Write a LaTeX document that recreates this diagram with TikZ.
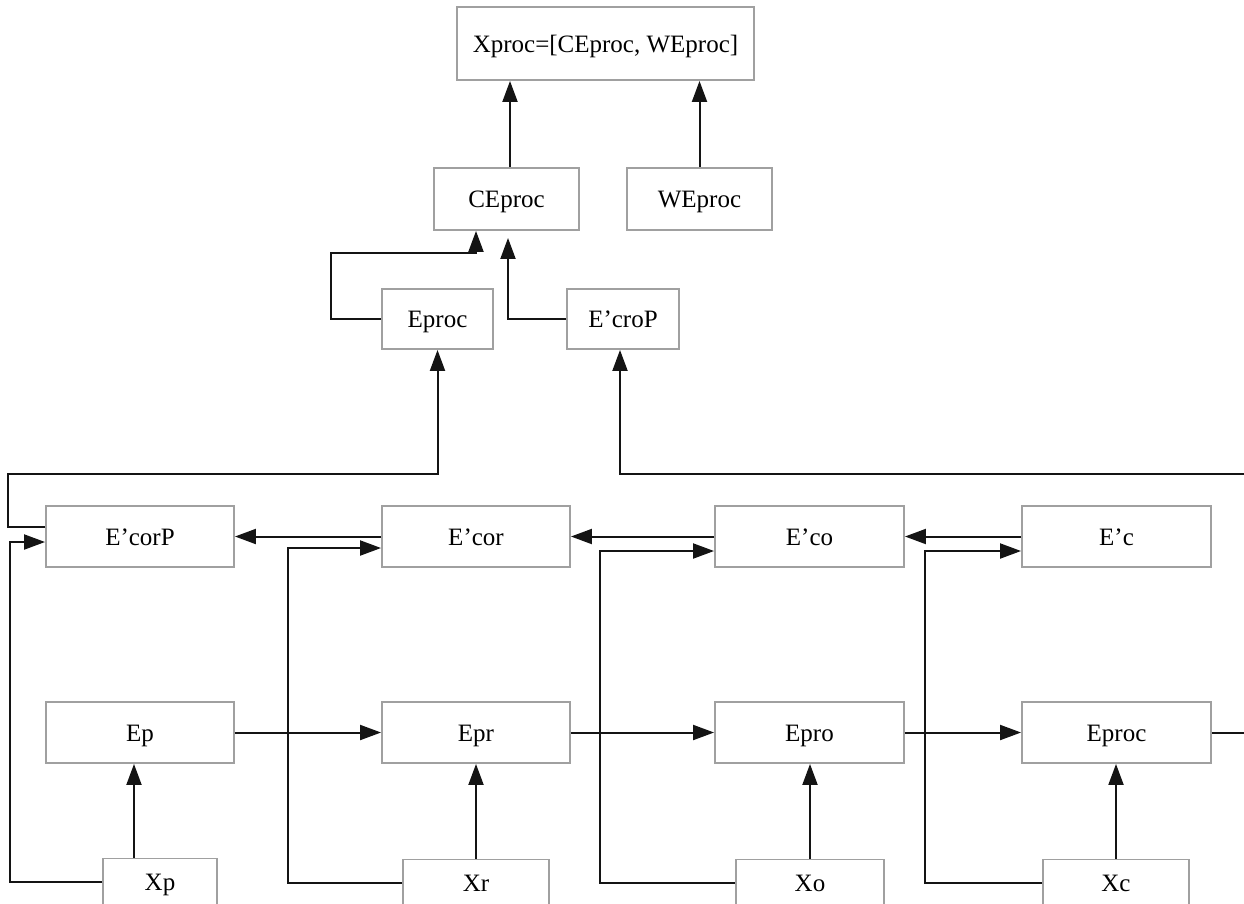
\documentclass[tikz,border=0pt]{standalone}
\usepackage{fontspec}
\setmainfont{Liberation Serif}
\usetikzlibrary{arrows.meta}
\definecolor{boxgray}{RGB}{160,160,160}
\definecolor{linedark}{RGB}{20,20,20}
\begin{document}
\begin{tikzpicture}[x=1pt,y=-1pt,
  box/.style={draw=boxgray, line width=1.9pt, fill=white, inner sep=0pt,
    font=\fontsize{25}{30}\selectfont, text height=21.5pt, text depth=4pt,
    minimum height=61pt},
  arr/.style={draw=linedark, line width=2pt, -{Triangle[length=21pt,width=15pt]}},
  ln/.style={draw=linedark, line width=2pt}]
\useasboundingbox (0,0) rectangle (1244,903);
% top
\node[box, minimum width=297pt, minimum height=73pt] (Xproc) at (605.5,43.5) {Xproc=[CEproc, WEproc]};
\node[box, minimum width=145pt, minimum height=62pt] (CEproc) at (506.5,199) {CEproc};
\node[box, minimum width=145pt, minimum height=62pt] (WEproc) at (699.5,199) {WEproc};
\node[box, minimum width=111pt, minimum height=60pt] (Eprocm) at (437.5,319) {Eproc};
\node[box, minimum width=112pt, minimum height=60pt] (EcroP) at (623,319) {E’croP};
% E' row
\node[box, minimum width=188pt] (EcorP) at (140,536.5) {E’corP};
\node[box, minimum width=188pt] (Ecor) at (476,536.5) {E’cor};
\node[box, minimum width=189pt] (Eco) at (809.5,536.5) {E’co};
\node[box, minimum width=189pt] (Ec) at (1116.5,536.5) {E’c};
% E row
\node[box, minimum width=188pt] (Ep) at (140,732.5) {Ep};
\node[box, minimum width=188pt] (Epr) at (476,732.5) {Epr};
\node[box, minimum width=189pt] (Epro) at (809.5,732.5) {Epro};
\node[box, minimum width=189pt] (Eproc) at (1116.5,732.5) {Eproc};
% X row
\node[box, minimum width=114pt, minimum height=46pt] (Xp) at (160,881.5) {Xp};
\node[box, minimum width=146pt, minimum height=46pt] (Xr) at (476,882.5) {Xr};
\node[box, minimum width=148pt, minimum height=46pt] (Xo) at (810,882.5) {Xo};
\node[box, minimum width=146pt, minimum height=46pt] (Xc) at (1116,882.5) {Xc};
% free ends
\coordinate (rin) at (1244,474);
\coordinate (rout) at (1244,732.5);
% top connectors
\draw[arr] ([xshift=3.5pt]CEproc.north) -- ([xshift=3.5pt]CEproc.north |- Xproc.south);
\draw[arr] (WEproc.north) -- (WEproc.north |- Xproc.south);
\draw[arr] (Eprocm.west) -| (331,253) -| ([xshift=-30.5pt]CEproc.south);
\draw[arr] (EcroP.west) -| ([xshift=1.5pt,yshift=-7pt]CEproc.south);
\draw[arr] ([yshift=10pt]EcorP.west) -| (8,474) -| (Eprocm.south);
\draw[arr] (rin) -| ([xshift=-3pt]EcroP.south);
% E' row connectors
\draw[arr] (Ec.west) -- (Eco.east);
\draw[arr] (Eco.west) -- (Ecor.east);
\draw[arr] (Ecor.west) -- (EcorP.east);
% E row connectors
\draw[arr] (Ep.east) -- (Epr.west);
\draw[arr] (Epr.east) -- (Epro.west);
\draw[arr] (Epro.east) -- (Eproc.west);
\draw[ln] (Eproc.east) -- (rout);
% X to E
\draw[arr] ([xshift=-26pt]Xp.north) -- ([xshift=-26pt]Xp.north |- Ep.south);
\draw[arr] (Xr.north) -- (Xr.north |- Epr.south);
\draw[arr] (Xo.north) -- (Xo.north |- Epro.south);
\draw[arr] (Xc.north) -- (Xc.north |- Eproc.south);
% X to E'
\draw[arr] (Xp.west) -| (10,542) -- ([yshift=-5.5pt]EcorP.west);
\draw[arr] (Xr.west) -| (288,548) -- ([yshift=-11.5pt]Ecor.west);
\draw[arr] (Xo.west) -| (600,551) -- ([yshift=-14.5pt]Eco.west);
\draw[arr] (Xc.west) -| (925,551) -- ([yshift=-14.5pt]Ec.west);
\end{tikzpicture}
\end{document}
